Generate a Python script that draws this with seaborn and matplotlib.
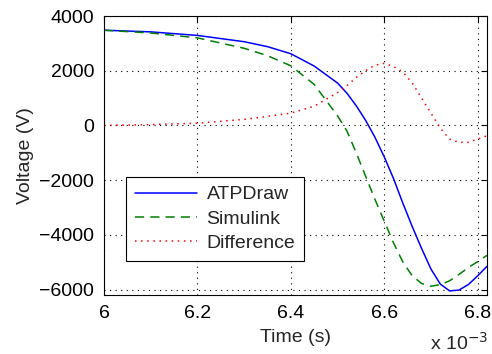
import pandas as pd
import matplotlib
matplotlib.use("Agg")
import matplotlib.pyplot as plt
import seaborn as sns

# ==========================================
# Data (time in ms, voltage in V)
# ==========================================
time_ms = [6.0, 6.1, 6.2, 6.3, 6.35, 6.4, 6.45, 6.5, 6.52, 6.54, 6.56, 6.58,
           6.6, 6.62, 6.64, 6.66, 6.68, 6.70, 6.72, 6.74, 6.76, 6.78, 6.80, 6.82]
atpdraw = [3480, 3420, 3290, 3060, 2880, 2620, 2170, 1550, 1180, 720, 190, -430,
           -1150, -1950, -2850, -3700, -4500, -5250, -5800, -6050, -6020, -5820, -5500, -5150]
simulink = [3480, 3380, 3200, 2820, 2550, 2180, 1500, 350, -200, -1000, -1850, -2700,
            -3500, -4300, -5000, -5500, -5780, -5880, -5820, -5680, -5450, -5200, -4980, -4750]
difference = [0, 30, 80, 220, 330, 450, 700, 1200, 1450, 1750, 2000, 2200,
              2270, 2150, 1950, 1550, 1000, 450, -100, -500, -620, -620, -500, -380]

series_names = ["ATPDraw", "Simulink", "Difference"]
x_ticks = [6.0, 6.2, 6.4, 6.6, 6.8]
x_tick_labels = ["6", "6.2", "6.4", "6.6", "6.8"]
y_ticks = [-6000, -4000, -2000, 0, 2000, 4000]


def main():
    rows = []
    for name, vals in zip(series_names, [atpdraw, simulink, difference]):
        for t, v in zip(time_ms, vals):
            rows.append({"time": t, "voltage": v, "series": name})
    df = pd.DataFrame(rows)

    sns.set_theme(style="white")
    plt.rcParams["font.family"] = ["Liberation Sans", "DejaVu Sans"]
    plt.rcParams["font.size"] = 14

    fig = plt.figure(figsize=(4.92, 3.54), dpi=100)
    ax = fig.add_axes([0.2114, 0.1667, 0.7784, 0.7881])

    palette = {"ATPDraw": "#0000ff", "Simulink": "#008000", "Difference": "#ff0000"}
    dashes = {"ATPDraw": "", "Simulink": (6, 4), "Difference": (1, 3)}
    sns.lineplot(data=df, x="time", y="voltage", hue="series", style="series",
                 palette=palette, dashes=dashes, linewidth=1.1, ax=ax,
                 hue_order=series_names, style_order=series_names)

    ax.set_xlim(6.0, 6.82)
    ax.set_ylim(-6200, 4000)
    ax.set_xticks(x_ticks)
    ax.set_xticklabels(x_tick_labels)
    ax.set_yticks(y_ticks)
    ax.set_yticklabels([str(v).replace("-", "\u2212") for v in y_ticks])

    ax.grid(True, color="black", linestyle=(0, (1, 4)), linewidth=0.8)
    ax.tick_params(direction="in", length=4, width=0.8, top=True, right=True,
                   labelsize=14, colors="black", pad=7)
    for s in ax.spines.values():
        s.set_color("black")
        s.set_linewidth(0.8)

    ax.set_xlabel("Time (s)", fontsize=14, labelpad=5)
    ax.set_ylabel("Voltage (V)", fontsize=14, labelpad=4)
    fig.text(0.875, 0.0, r"x 10$^{-3}$", fontsize=14, ha="left", va="bottom")

    handles, labels = ax.get_legend_handles_labels()
    leg = ax.legend(handles, labels, loc="upper left", bbox_to_anchor=(0.057, 0.423),
                    borderaxespad=0, fancybox=False, edgecolor="black", framealpha=1,
                    handlelength=3.2, handletextpad=0.5, fontsize=14,
                    borderpad=0.45, labelspacing=0.35)
    leg.get_frame().set_linewidth(0.8)

    fig.savefig("out.png", dpi=100)
    plt.close(fig)


if __name__ == "__main__":
    main()
